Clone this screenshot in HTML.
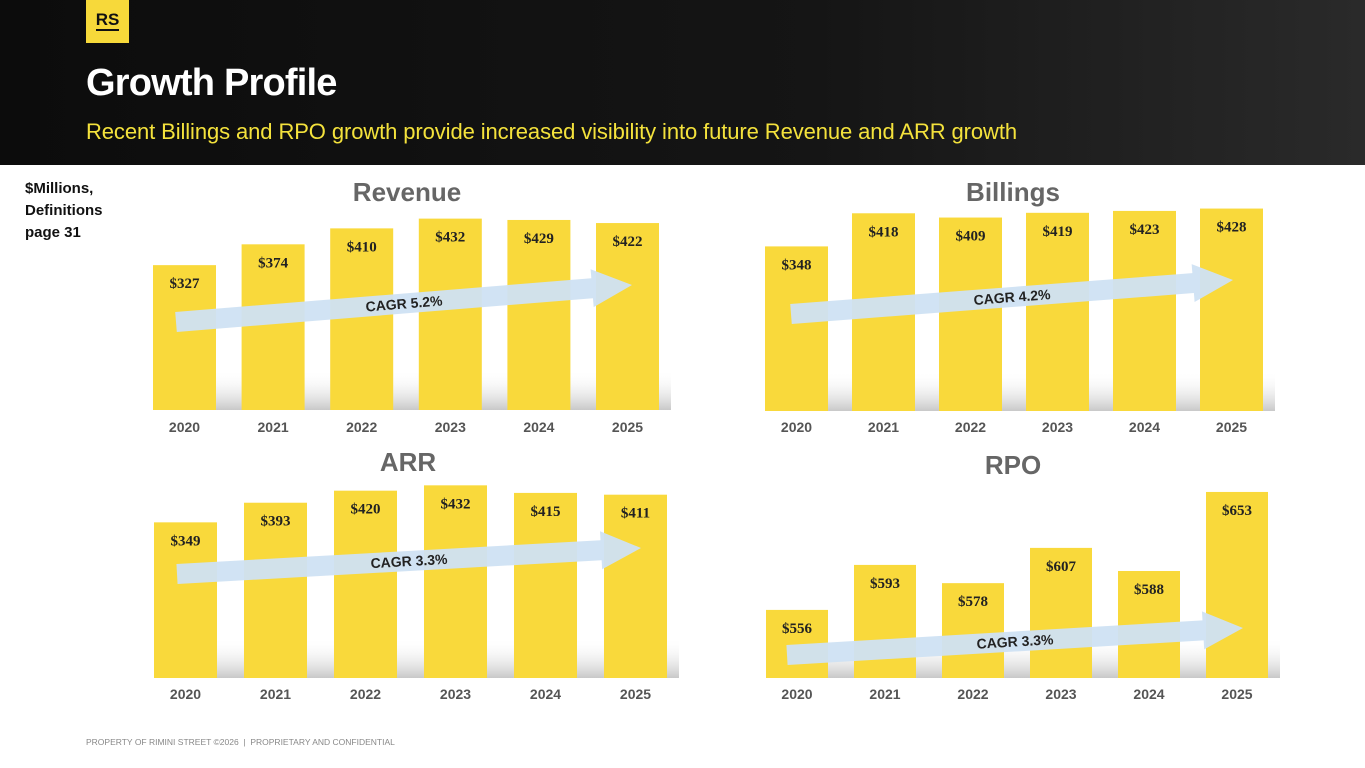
<!DOCTYPE html>
<html><head><meta charset="utf-8">
<style>
body{margin:0;width:1365px;height:768px;overflow:hidden;background:#fff;font-family:"Liberation Sans",sans-serif;position:relative}
#hdr{position:absolute;left:0;top:0;width:1365px;height:165px;background:linear-gradient(90deg,#0c0c0c 0%,#151515 60%,#2a2a2a 100%)}
#logo{position:absolute;left:86px;top:0;width:43px;height:43px;background:#f7d93a;color:#111;font-weight:bold;font-size:17px;text-align:center;line-height:40px}
#logo span{border-bottom:2px solid #111;line-height:16px;display:inline-block;padding-bottom:1px;margin-top:12px}
#title{position:absolute;left:86px;top:62px;color:#fff;font-weight:bold;font-size:38px;letter-spacing:-0.8px}
#sub{position:absolute;left:86px;top:119px;color:#f4e23c;font-size:22px;letter-spacing:-0.1px}
#units{position:absolute;left:25px;top:178px;font-size:15px;font-weight:bold;color:#111;line-height:22px}
#foot{position:absolute;left:86px;top:737px;font-size:8.5px;color:#888}
svg{position:absolute;left:0;top:0}
</style></head><body>
<div id="hdr"></div>
<div id="logo"><span>RS</span></div>
<div id="title">Growth Profile</div>
<div id="sub">Recent Billings and RPO growth provide increased visibility into future Revenue and ARR growth</div>
<div id="units">$Millions,<br>Definitions<br>page 31</div>
<div id="foot">PROPERTY OF RIMINI STREET ©2026 &nbsp;| &nbsp;PROPRIETARY AND CONFIDENTIAL</div>
<svg id="chart" width="1365" height="768">
<defs>
<linearGradient id="sh" x1="0" y1="0" x2="0" y2="1"><stop offset="0" stop-color="#fff" stop-opacity="0"/><stop offset="1" stop-color="#c8c8c8"/></linearGradient>
</defs>
</svg>
<script>
const years=["2020","2021","2022","2023","2024","2025"];
const revenue=[327,374,410,432,429,422];
const billings=[348,418,409,419,423,428];
const arr=[349,393,420,432,415,411];
const rpo=[556,593,578,607,588,653];
const cagrs=["CAGR 5.2%","CAGR 4.2%","CAGR 3.3%","CAGR 3.3%"];
const NS="http://www.w3.org/2000/svg";
const svg=document.getElementById('chart');
function mk(t,a){const e=document.createElementNS(NS,t);for(const k in a)e.setAttribute(k,a[k]);svg.appendChild(e);return e;}
const panels=[
 {name:"revenue",title:"Revenue",vals:revenue,x0:153,step:88.6,w:63,base:410,min:0,scale:0.443,ty:201,tx:407,yl:432,cagr:cagrs[0],ar:[176,322,632,285]},
 {name:"billings",title:"Billings",vals:billings,x0:765,step:87,w:63,base:411,min:0,scale:0.473,ty:201,tx:1013,yl:432,cagr:cagrs[1],ar:[791,314,1233,280]},
 {name:"arr",title:"ARR",vals:arr,x0:154,step:90,w:63,base:678,min:0,scale:0.446,ty:471,tx:408,yl:699,cagr:cagrs[2],ar:[177,574,641,548]},
 {name:"rpo",title:"RPO",vals:rpo,x0:766,step:88,w:62,base:678,min:500,scale:1.216,ty:474,tx:1013,yl:699,cagr:cagrs[3],ar:[787,655,1243,628]}
];
panels.forEach(p=>{
  const yv=v=>p.base-(v-p.min)*p.scale;
  const xi=i=>p.x0+i*p.step;
  let s=mk('rect',{x:p.x0,y:p.base-40,width:xi(5)+p.w+12-p.x0,height:40,fill:"url(#sh)"});
  
  
  let t=mk('text',{x:p.tx,y:p.ty,'text-anchor':'middle','font-size':26,'font-weight':'bold',fill:'#666'});
  t.textContent=p.title;
  
  
  p.vals.forEach((v,i)=>{
    const y=yv(v);
    let r=mk('rect',{x:xi(i),y:y,width:p.w,height:p.base-y,fill:'#f9d93b'});
    
    
    let l=mk('text',{x:xi(i)+p.w/2,y:y+23,'text-anchor':'middle','font-size':15,'font-weight':'bold',fill:'#222','font-family':'Liberation Serif, serif'});
    l.textContent='$'+v;
    
    
    let yr=mk('text',{x:xi(i)+p.w/2,y:p.yl,'text-anchor':'middle','font-size':14,'font-weight':'bold',fill:'#555'});
    yr.textContent=years[i];
    
    
  });
  const [x1,y1,x2,y2]=p.ar;
  const dx=x2-x1,dy=y2-y1,L=Math.hypot(dx,dy),ux=dx/L,uy=dy/L,nx=-uy,ny=ux;
  const hw=10,hh=19,hl=40;
  const bx=x2-ux*hl,by=y2-uy*hl;
  const pts=[[x1+nx*hw,y1+ny*hw],[bx+nx*hw,by+ny*hw],[bx+nx*hh,by+ny*hh],[x2,y2],[bx-nx*hh,by-ny*hh],[bx-nx*hw,by-ny*hw],[x1-nx*hw,y1-ny*hw]];
  let a=mk('polygon',{points:pts.map(q=>q.join(',')).join(' '),fill:'#cfe2f3',opacity:0.95});
  
  
  const mx=(x1+x2)/2,my=(y1+y2)/2,ang=Math.atan2(dy,dx)*180/Math.PI;
  let c=mk('text',{x:mx,y:my+5,'text-anchor':'middle','font-size':14,'font-weight':'bold',fill:'#222',transform:`rotate(${ang} ${mx} ${my})`});
  c.textContent=p.cagr;
  
  
});
</script>
</body></html>
